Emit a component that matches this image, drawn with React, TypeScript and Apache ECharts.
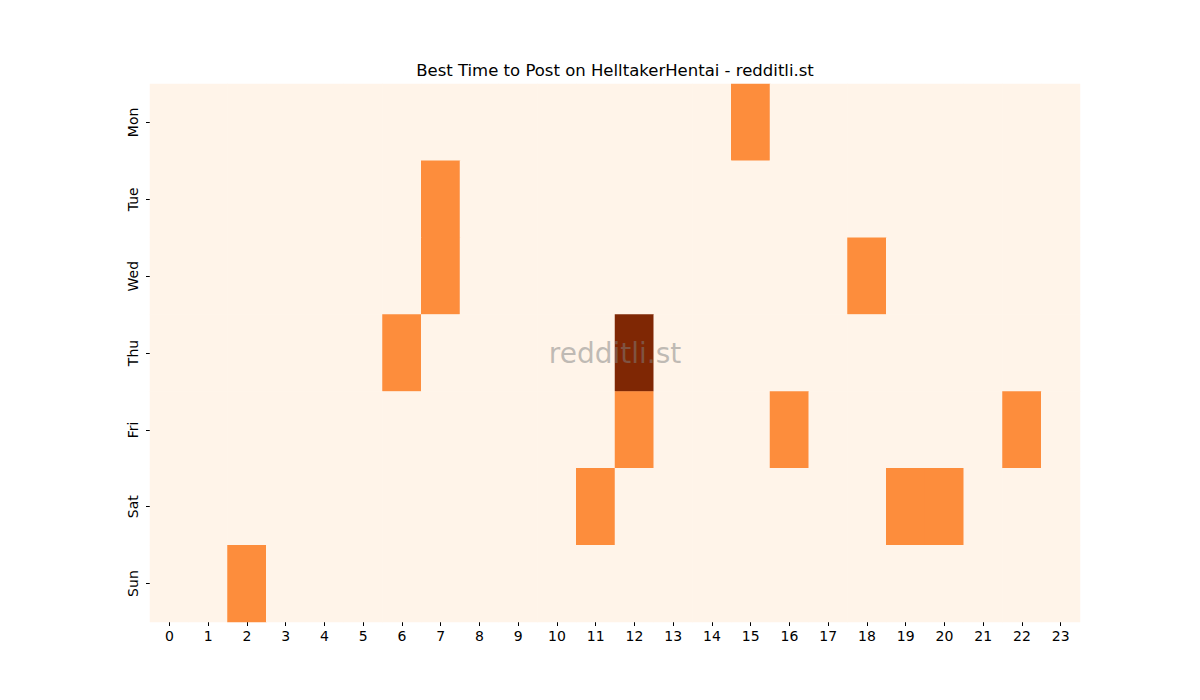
import { useEffect, useRef } from 'react'
import * as echarts from 'echarts'

const days = ['Mon', 'Tue', 'Wed', 'Thu', 'Fri', 'Sat', 'Sun']
const hours = ['0', '1', '2', '3', '4', '5', '6', '7', '8', '9', '10', '11', '12', '13', '14', '15', '16', '17', '18', '19', '20', '21', '22', '23']

// posts per hour, one row per day
const mon = [0, 0, 0, 0, 0, 0, 0, 0, 0, 0, 0, 0, 0, 0, 0, 1, 0, 0, 0, 0, 0, 0, 0, 0]
const tue = [0, 0, 0, 0, 0, 0, 0, 1, 0, 0, 0, 0, 0, 0, 0, 0, 0, 0, 0, 0, 0, 0, 0, 0]
const wed = [0, 0, 0, 0, 0, 0, 0, 1, 0, 0, 0, 0, 0, 0, 0, 0, 0, 0, 1, 0, 0, 0, 0, 0]
const thu = [0, 0, 0, 0, 0, 0, 1, 0, 0, 0, 0, 0, 2, 0, 0, 0, 0, 0, 0, 0, 0, 0, 0, 0]
const fri = [0, 0, 0, 0, 0, 0, 0, 0, 0, 0, 0, 0, 1, 0, 0, 0, 1, 0, 0, 0, 0, 0, 1, 0]
const sat = [0, 0, 0, 0, 0, 0, 0, 0, 0, 0, 0, 1, 0, 0, 0, 0, 0, 0, 0, 1, 1, 0, 0, 0]
const sun = [0, 0, 1, 0, 0, 0, 0, 0, 0, 0, 0, 0, 0, 0, 0, 0, 0, 0, 0, 0, 0, 0, 0, 0]
const rows = [mon, tue, wed, thu, fri, sat, sun]

export default function App(): JSX.Element {
  const chartRef = useRef<HTMLDivElement>(null)

  useEffect(() => {
    if (!chartRef.current) return
    const chart = echarts.init(chartRef.current, null, { renderer: 'svg' })

    const data: number[][] = []
    rows.forEach((row, d) => {
      row.forEach((v, h) => data.push([h, d, v]))
    })

    const font = 'DejaVu Sans'

    chart.setOption({
      animation: false,
      backgroundColor: '#ffffff',
      title: {
        text: 'Best Time to Post on HelltakerHentai - redditli.st',
        left: 610,
        top: 57,
        textAlign: 'center',
        textStyle: { fontFamily: font, fontSize: 16.5, fontWeight: 'normal', color: '#000000' }
      },
      grid: { left: 150, right: 120, top: 84, bottom: 78 },
      xAxis: {
        type: 'category',
        data: hours,
        splitArea: { show: false },
        axisLine: { show: false },
        axisTick: { show: true, alignWithLabel: true, length: 4, lineStyle: { color: '#000000' } },
        axisLabel: { fontFamily: font, fontSize: 14, color: '#000000', margin: 7 }
      },
      yAxis: {
        type: 'category',
        data: days,
        inverse: true,
        splitArea: { show: false },
        axisLine: { show: false },
        axisTick: { show: true, alignWithLabel: true, length: 4, lineStyle: { color: '#000000' } },
        axisLabel: { fontFamily: font, fontSize: 14, color: '#000000', rotate: 90, margin: 10 }
      },
      visualMap: {
        show: false,
        type: 'piecewise',
        dimension: 2,
        pieces: [
          { value: 0, color: '#fff4e9' },
          { value: 1, color: '#fd8d3c' },
          { value: 2, color: '#7f2704' }
        ]
      },
      series: [
        {
          type: 'heatmap',
          data,
          itemStyle: { borderWidth: 0 },
          emphasis: { disabled: true }
        }
      ],
      graphic: [
        {
          type: 'text',
          x: 615,
          y: 353,
          z: 100,
          style: {
            text: 'redditli.st',
            fontFamily: font,
            fontSize: 28,
            fill: 'rgba(128,128,128,0.5)',
            align: 'center',
            verticalAlign: 'middle'
          }
        }
      ]
    })

    return () => {
      chart.dispose()
    }
  }, [])

  return <div ref={chartRef} style={{ width: 1200, height: 700, margin: -8 }} />
}
